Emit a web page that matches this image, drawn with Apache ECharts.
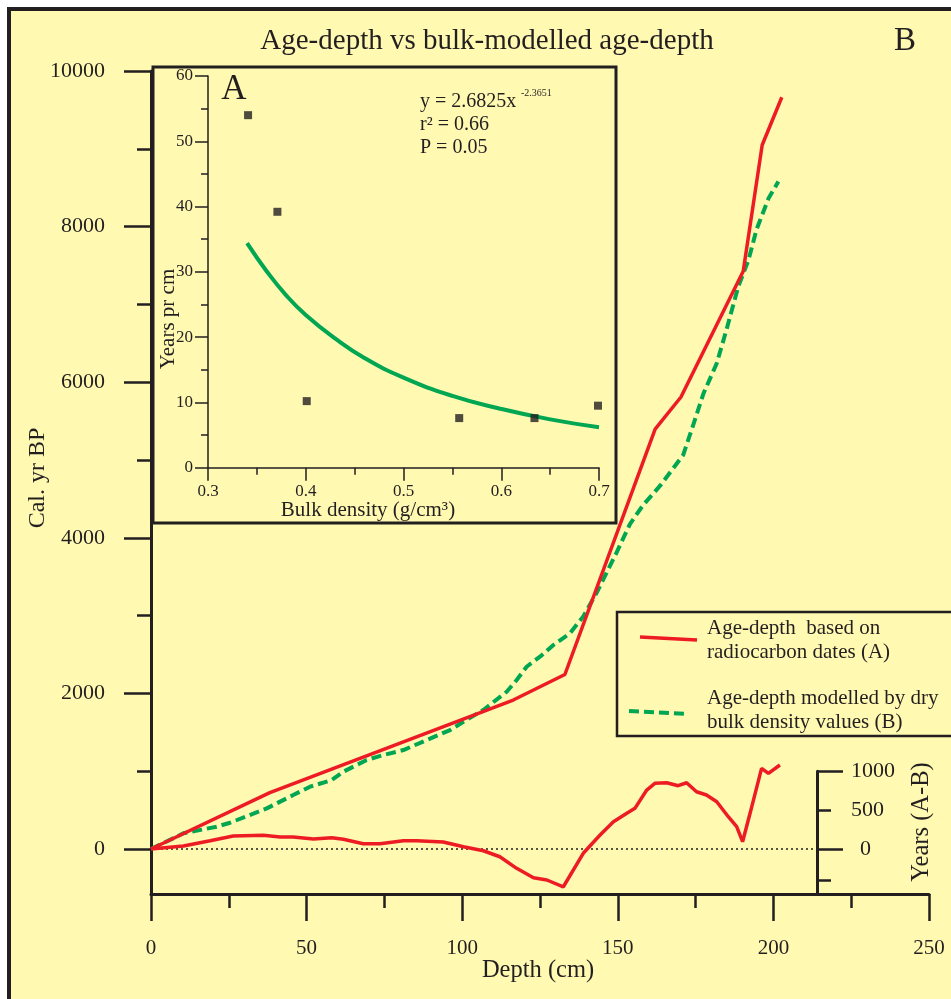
<!DOCTYPE html>
<html>
<head>
<meta charset="utf-8">
<script src="https://cdn.jsdelivr.net/npm/echarts@6/dist/echarts.min.js"></script>
<style>
  html, body { margin: 0; padding: 0; background: #ffffff; }
  #wrap { position: relative; width: 951px; height: 999px; overflow: hidden; background: #ffffff; }
  #frame { position: absolute; left: 7px; top: 7px; width: 1000px; height: 1050px;
           border: 4px solid #231f20; background: #fff9b2; }
  #chart { position: absolute; left: 0; top: 0; width: 951px; height: 999px; }
</style>
</head>
<body>
<div id="wrap"><div id="frame"></div><div id="chart"></div></div>
<script>
// ---------- DATA ----------
// Main panel B: depth (cm) vs calibrated age (cal. yr BP)
const radiocarbonAgeDepth = [
  [0, 0], [38.2, 724], [116.4, 1915], [133.0, 2243], [162.0, 5398],
  [170.3, 5810], [190.3, 7425], [196.4, 9049], [202.7, 9663]
];
const bulkModelledAgeDepth = [
  [0, 0], [10.4, 202], [21.1, 287], [25.4, 338], [37.2, 523], [45.7, 694],
  [51.1, 801], [58.1, 887], [61.8, 994], [69.3, 1144], [74.6, 1208],
  [81.1, 1272], [88.6, 1401], [96.1, 1529], [100.4, 1636], [106.8, 1787],
  [114.3, 2022], [117.5, 2172], [120.7, 2343], [125.0, 2472], [129.3, 2622],
  [134.6, 2772], [138.9, 2990], [143.2, 3293], [149.6, 3810], [153.9, 4177],
  [158.2, 4424], [163.6, 4670], [171.0, 5064], [174.3, 5457], [177.5, 5851],
  [181.8, 6244], [185.0, 6686], [188.7, 7227], [192.0, 7572], [194.6, 7965],
  [198.4, 8360], [201.6, 8581]
];
const differenceAB = [
  [0, 0], [10.4, 39], [19.0, 107], [26.4, 167], [36.1, 176], [41.5, 154],
  [45.7, 154], [52.2, 129], [58.1, 145], [61.8, 125], [68.2, 68], [73.6, 68],
  [81.1, 107], [85.4, 107], [93.9, 90], [100.4, 30], [106.8, -22], [112.1, -99],
  [117.5, -248], [122.9, -369], [127.2, -398], [132.5, -485], [138.9, -55],
  [144.3, 180], [148.6, 351], [152.9, 459], [155.5, 523], [159.3, 758],
  [161.9, 844], [165.7, 852], [169.4, 814], [172.1, 852], [175.3, 736],
  [178.5, 694], [181.8, 608], [185.5, 415], [188.2, 287], [190.1, 94],
  [192.5, 459], [196.2, 1037], [198.4, 973], [202.1, 1080]
];
const zeroLineEndDepth = 214;
const depthTicks = [0, 50, 100, 150, 200, 250];
const ageMajorTicks = [0, 2000, 4000, 6000, 8000, 10000];
const ageMinorTicks = [1000, 3000, 5000, 7000, 9000];
const diffMajorTicks = [0, 1000];
const diffMinorTicks = [-400, 500];
const diffLabels = [0, 500, 1000];

// Inset panel A: bulk density vs years per cm
const insetPoints = [
  [0.341, 54.0], [0.371, 39.2], [0.401, 10.2], [0.557, 7.6], [0.634, 7.6], [0.699, 9.5]
];
const insetFitCurve = [
  [0.34, 34.4], [0.36, 30.1], [0.38, 26.4], [0.40, 23.4], [0.43, 19.8],
  [0.46, 16.8], [0.50, 13.8], [0.55, 11.0], [0.60, 9.0], [0.65, 7.4], [0.70, 6.2]
];

// ---------- STYLE ----------
const INK = '#231f20';
const RED = '#ed1c24';
const GREEN = '#00a651';
const FONT = '"Liberation Serif", "DejaVu Serif", serif';

const chart = echarts.init(document.getElementById('chart'), null, { renderer: 'canvas' });

const mainYMin = -578, mainYMax = 10000;
const plain = v => String(v);

function txt(x, y, text, size, opts) {
  opts = opts || {};
  return {
    type: 'text', x: x, y: y, rotation: opts.rotation || 0, z: 100,
    style: {
      text: text, font: (opts.weight || 'normal') + ' ' + size + 'px ' + FONT,
      fill: INK, align: opts.align || 'center', verticalAlign: 'middle'
    }
  };
}

const option = {
  animation: false,
  grid: [
    { left: 151, right: 22, top: 71, bottom: 105 },          // main
    { left: 208, right: 352, top: 76, bottom: 531.3 },       // inset
    { left: 700, right: 134, top: 771.2, bottom: 105 },      // right diff axis (major)
    { left: 700, right: 134, top: 771.2, bottom: 105 }       // right diff axis (minor)
  ],
  xAxis: [
    {
      gridIndex: 0, type: 'value', min: 0, max: 250, interval: 50,
      axisLine: { onZero: false, lineStyle: { color: INK, width: 3 } },
      axisTick: { length: 27, lineStyle: { color: INK, width: 2.5 } },
      minorTick: { show: true, splitNumber: 2, length: 14, lineStyle: { color: INK, width: 2.5 } },
      axisLabel: { margin: 44, fontFamily: FONT, fontSize: 21, color: INK,
                   customValues: depthTicks, formatter: plain },
      splitLine: { show: false }
    },
    {
      gridIndex: 1, type: 'value', min: 0.3, max: 0.7, interval: 0.1,
      axisLine: { onZero: false, lineStyle: { color: INK, width: 1.5 } },
      axisTick: { length: 13, lineStyle: { color: INK, width: 1.5 } },
      minorTick: { show: true, splitNumber: 2, length: 7, lineStyle: { color: INK, width: 1.5 } },
      axisLabel: { margin: 15, fontFamily: FONT, fontSize: 17, color: INK,
                   formatter: v => v.toFixed(1) },
      splitLine: { show: false }
    },
    { gridIndex: 2, type: 'value', min: 0, max: 1, show: false },
    { gridIndex: 3, type: 'value', min: 0, max: 1, show: false }
  ],
  yAxis: [
    {
      gridIndex: 0, type: 'value', position: 'left', min: mainYMin, max: mainYMax,
      axisLine: { show: true, onZero: false, lineStyle: { color: INK, width: 3 } },
      axisTick: { show: true, length: 27, customValues: ageMajorTicks, lineStyle: { color: INK, width: 2.5 } },
      axisLabel: { margin: 46, fontFamily: FONT, fontSize: 22, color: INK,
                   customValues: ageMajorTicks, formatter: plain },
      splitLine: { show: false }
    },
    {
      gridIndex: 0, type: 'value', position: 'left', min: mainYMin, max: mainYMax,
      axisLine: { show: false, onZero: false },
      axisTick: { show: true, length: 14, customValues: ageMinorTicks, lineStyle: { color: INK, width: 2.5 } },
      axisLabel: { show: false },
      splitLine: { show: false }
    },
    {
      gridIndex: 1, type: 'value', min: 0, max: 60, interval: 10,
      axisLine: { show: true, onZero: false, lineStyle: { color: INK, width: 1.5 } },
      axisTick: { show: true, length: 13, lineStyle: { color: INK, width: 1.5 } },
      minorTick: { show: true, splitNumber: 2, length: 7, lineStyle: { color: INK, width: 1.5 } },
      axisLabel: { margin: 15, fontFamily: FONT, fontSize: 17, color: INK },
      splitLine: { show: false }
    },
    {
      gridIndex: 2, type: 'value', position: 'right', min: mainYMin, max: 1000,
      axisLine: { show: true, onZero: false, lineStyle: { color: INK, width: 3 } },
      axisTick: { show: true, length: 26, customValues: diffMajorTicks, lineStyle: { color: INK, width: 2.5 } },
      axisLabel: { margin: 34, fontFamily: FONT, fontSize: 22, color: INK, align: 'left',
                   customValues: diffLabels,
                   formatter: v => (v === 0 ? '{p|0}' : String(v)),
                   rich: { p: { padding: [0, 0, 0, 9], fontFamily: FONT, fontSize: 22, color: INK } } },
      splitLine: { show: false }
    },
    {
      gridIndex: 3, type: 'value', position: 'right', min: mainYMin, max: 1000,
      axisLine: { show: false, onZero: false },
      axisTick: { show: true, length: 14, customValues: diffMinorTicks, lineStyle: { color: INK, width: 2.5 } },
      axisLabel: { show: false },
      splitLine: { show: false }
    }
  ],
  series: [
    {
      name: 'Age-depth based on radiocarbon dates (A)', type: 'line',
      xAxisIndex: 0, yAxisIndex: 0, data: radiocarbonAgeDepth,
      symbol: 'none', lineStyle: { color: RED, width: 3.5 }, z: 5
    },
    {
      name: 'Age-depth modelled by dry bulk density values (B)', type: 'line',
      xAxisIndex: 0, yAxisIndex: 0, data: bulkModelledAgeDepth,
      symbol: 'none', lineStyle: { color: GREEN, width: 4, type: [10, 5] }, z: 4
    },
    {
      name: 'Years (A-B)', type: 'line',
      xAxisIndex: 0, yAxisIndex: 0, data: differenceAB,
      symbol: 'none', lineStyle: { color: RED, width: 3.5 }, z: 5,
      markLine: {
        silent: true, symbol: 'none', label: { show: false },
        lineStyle: { color: INK, width: 1.6, type: [2, 3] },
        data: [[{ coord: [0, 0] }, { coord: [zeroLineEndDepth, 0] }]]
      }
    },
    {
      name: 'fit', type: 'line', xAxisIndex: 1, yAxisIndex: 2,
      data: insetFitCurve, smooth: true, symbol: 'none',
      lineStyle: { color: GREEN, width: 4 }, z: 5
    },
    {
      name: 'points', type: 'scatter', xAxisIndex: 1, yAxisIndex: 2,
      data: insetPoints, symbol: 'rect', symbolSize: 8,
      itemStyle: { color: INK }, z: 6
    }
  ],
  graphic: [
    // inset frame
    { type: 'rect', z: 100, shape: { x: 153, y: 67, width: 463, height: 456 },
      style: { fill: 'none', stroke: INK, lineWidth: 3 } },
    // legend box
    { type: 'rect', z: 100, shape: { x: 617, y: 612, width: 400, height: 124 },
      style: { fill: 'none', stroke: INK, lineWidth: 2.5 } },
    { type: 'line', z: 100, shape: { x1: 640, y1: 637, x2: 697, y2: 640 },
      style: { stroke: RED, lineWidth: 3.5 } },
    { type: 'line', z: 100, shape: { x1: 629, y1: 711, x2: 688, y2: 714 },
      style: { stroke: GREEN, lineWidth: 4, lineDash: [10, 5] } },
    txt(707, 628, 'Age-depth  based on', 21, { align: 'left' }),
    txt(707, 652, 'radiocarbon dates (A)', 21, { align: 'left' }),
    txt(707, 698, 'Age-depth modelled by dry', 21, { align: 'left' }),
    txt(707, 722, 'bulk density values (B)', 21, { align: 'left' }),
    // titles
    txt(487, 41, 'Age-depth vs bulk-modelled age-depth', 29),
    txt(905, 41, 'B', 33),
    txt(234, 90, 'A', 35),
    // equation
    txt(420, 102, 'y = 2.6825x', 20, { align: 'left' }),
    txt(521, 93, '-2.3651', 10, { align: 'left' }),
    txt(420, 125, 'r² = 0.66', 20, { align: 'left' }),
    txt(420, 148, 'P = 0.05', 20, { align: 'left' }),
    // axis names
    txt(538, 971, 'Depth (cm)', 24.5),
    txt(38, 478, 'Cal. yr BP', 24, { rotation: Math.PI / 2 }),
    txt(922, 822, 'Years (A-B)', 24.5, { rotation: Math.PI / 2 }),
    txt(168, 319, 'Years pr cm', 21, { rotation: Math.PI / 2 }),
    txt(368, 510, 'Bulk density (g/cm³)', 21)
  ]
};

chart.setOption(option);
</script>
</body>
</html>
